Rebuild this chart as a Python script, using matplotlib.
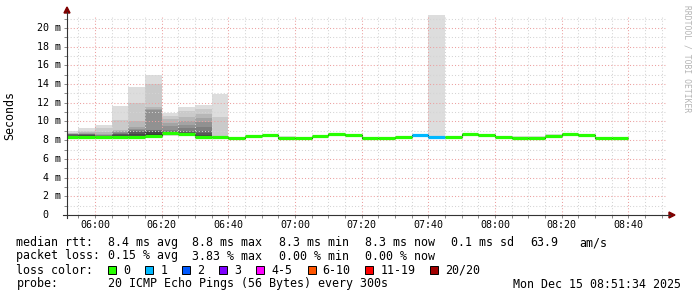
import numpy as np
import matplotlib.pyplot as plt
from matplotlib.patches import Polygon, Rectangle
from matplotlib.lines import Line2D
from matplotlib.ticker import MultipleLocator, FuncFormatter

# --- data -------------------------------------------------------------
# start of each 5 minute slot, minutes after midnight (05:50 ... 08:35)
slot_start = np.arange(5 * 60 + 50, 8 * 60 + 40, 5)
view_start = 5 * 60 + 51 + 34 / 60
view_end = 8 * 60 + 51 + 34 / 60

# median rtt per slot (ms)
median = [8.38, 8.38, 8.38, 8.38, 8.38, 8.49, 8.79, 8.68, 8.38, 8.38,
          8.27, 8.41, 8.56, 8.27, 8.27, 8.41, 8.63, 8.59, 8.27, 8.27,
          8.37, 8.56, 8.37, 8.37, 8.66, 8.56, 8.37, 8.27, 8.27, 8.40,
          8.63, 8.56, 8.27, 8.27]
# lost pings (out of 20) per slot
lost = [0, 0, 0, 0, 0, 0, 0, 0, 0, 0,
        0, 0, 0, 0, 0, 0, 0, 0, 0, 0,
        0, 1, 1, 0, 0, 0, 0, 0, 0, 0,
        0, 0, 0, 0]

# upper ping values (slowest first) for slots that show smoke, ms
smoke_top = {
    0: [8.98, 8.77, 8.74, 8.71, 8.69, 8.67, 8.64, 8.58, 8.50, 8.45],
    1: [9.27, 8.98, 8.85, 8.75, 8.70, 8.66, 8.62, 8.58, 8.55, 8.45],
    2: [9.62, 9.27, 8.90, 8.70, 8.60, 8.55, 8.50, 8.47, 8.44, 8.41],
    3: [11.69, 10.16, 9.09, 8.95, 8.84, 8.75, 8.68, 8.63, 8.55, 8.45],
    4: [13.69, 11.98, 10.02, 9.38, 9.25, 9.13, 9.00, 8.85, 8.70, 8.50],
    5: [15.00, 14.00, 11.55, 11.35, 11.20, 9.13, 9.05, 9.00, 8.90, 8.65],
    6: [10.94, 10.59, 10.23, 9.87, 9.52, 9.09, 8.95, 8.88, 8.83, 8.80],
    7: [11.52, 11.16, 10.52, 10.05, 9.63, 9.27, 9.00, 8.85, 8.75, 8.70],
    8: [11.76, 11.30, 10.80, 10.34, 9.91, 9.44, 9.02, 8.80, 8.60, 8.45],
    9: [12.90, 10.52, 8.50, 8.45, 8.42, 8.41, 8.40, 8.39, 8.39, 8.38],
    13: [8.47, 8.32],
    22: [21.40, 8.45],
    26: [8.50],
    27: [8.48, 8.32],
    28: [8.48, 8.32],
    29: [8.62, 8.45],
}
# fastest ping where it shows below the median line
smoke_bottom = {6: 8.48, 7: 8.45}

loss_labels = ["0", "1", "2", "3", "4-5", "6-10", "11-19", "20/20"]
loss_colors = ["#26ff00", "#00b8ff", "#0059ff", "#7e00ff",
               "#ff00ff", "#ff5500", "#ff0000", "#a10000"]
loss_bins = [0, 1, 2, 3, 5, 10, 19, 20]

rtt_stats = ["8.4 ms avg", "8.8 ms max", "8.3 ms min", "8.3 ms now",
             "0.1 ms sd", "63.9", "am/s"]
loss_stats = ["0.15 % avg", "3.83 % max", "0.00 % min", "0.00 % now"]
probe_text = "20 ICMP Echo Pings (56 Bytes) every 300s"
stamp_text = "Mon Dec 15 08:51:34 2025"

# --- figure -----------------------------------------------------------
W, H = 697, 297
MONO = "DejaVu Sans Mono"
plt.rcParams["font.family"] = MONO


def fx(x):
    return x / W


def fy(y):
    return 1 - y / H


fig = plt.figure(figsize=(W / 100, H / 100), dpi=100)
fig.patch.set_facecolor("white")
ax = fig.add_axes([fx(67), fy(215), 600 / W, 200 / H])
ax.set_xlim(view_start, view_end)
ax.set_ylim(0, 21.39)

# smoke: 10 layers, outer pairs light, inner pairs dark
for idx, tops in smoke_top.items():
    med = median[idx]
    for i in range(10):
        top = tops[i] if i < len(tops) else med
        bot = smoke_bottom.get(idx, med) if i == 0 else med
        if top <= bot:
            continue
        g = int(190 / 10 * (10 - (i + 1))) + 50
        ax.bar(slot_start[idx], top - bot, bottom=bot, width=5, align="edge",
               color="#%02x%02x%02x" % (g, g, g), linewidth=0, zorder=1)

# median line: thin black steps below coloured segments
edges = np.append(slot_start, slot_start[-1] + 5)
ax.stairs(median, edges, baseline=None, color="black", lw=0.8, zorder=2)
seg_colors = [loss_colors[np.searchsorted(loss_bins, n)] for n in lost]
ax.hlines(median, slot_start, slot_start + 5, colors=seg_colors, lw=2.3,
          capstyle="butt", zorder=3)

# grid
ax.xaxis.set_major_locator(MultipleLocator(20))
ax.xaxis.set_minor_locator(MultipleLocator(5))
ax.yaxis.set_major_locator(MultipleLocator(2))
ax.yaxis.set_minor_locator(MultipleLocator(1))
ax.set_axisbelow(False)
ax.grid(which="minor", color="#d4d4d4", ls=(0, (1, 2)), lw=0.75)
ax.grid(which="major", color="#eca0a0", ls=(0, (1, 2)), lw=0.75)
for s in ax.spines.values():
    s.set_visible(False)

ax.xaxis.set_major_formatter(
    FuncFormatter(lambda v, p: "%02d:%02d" % (int(v) // 60, int(v) % 60)))
ax.tick_params(which="both", length=2, width=0.7, color="#888888")
ax.tick_params(axis="x", labelsize=7.2, pad=1.5)
ax.set_yticklabels([])

# y tick labels, rrdtool style
for v in range(0, 21, 2):
    if v == 0:
        ax.text(-0.031, v, "0", ha="right", va="center", fontsize=7.2,
                transform=ax.get_yaxis_transform())
    else:
        ax.text(-0.01, v, "%d m" % v, ha="right", va="center", fontsize=7.2,
                transform=ax.get_yaxis_transform())

# axes with arrows
axis_col = "#333333"
arrow_col = "#7f0000"
fig.add_artist(Line2D([fx(63), fx(670)], [fy(215), fy(215)], color=axis_col,
                      lw=0.8, transform=fig.transFigure))
fig.add_artist(Line2D([fx(67), fx(67)], [fy(218), fy(12)], color=axis_col,
                      lw=0.8, transform=fig.transFigure))
fig.add_artist(Polygon([(fx(669), fy(212)), (fx(669), fy(218)), (fx(675), fy(215))],
                       closed=True, color=arrow_col, transform=fig.transFigure))
fig.add_artist(Polygon([(fx(64), fy(13)), (fx(70), fy(13)), (fx(67), fy(7))],
                       closed=True, color=arrow_col, transform=fig.transFigure))

fig.text(fx(10), fy(115), "Seconds", rotation=90, ha="center", va="center",
         fontsize=8.4)
fig.text(fx(687), fy(5), "RRDTOOL / TOBI OETIKER", rotation=-90, ha="center",
         va="top", fontsize=5.8, color="#b4b4b4")

# legend
fs = 8.4
rows = [246, 259.5, 273.5, 287.5]
col_x = [107.6, 192.4, 279, 365.3, 451, 530, 579]

fig.text(fx(16.4), fy(rows[0]), "median rtt:", fontsize=fs, va="baseline")
for x, t in zip(col_x, rtt_stats):
    fig.text(fx(x), fy(rows[0]), t, fontsize=fs, va="baseline")

fig.text(fx(16.4), fy(rows[1]), "packet loss:", fontsize=fs, va="baseline")
for x, t in zip(col_x, loss_stats):
    fig.text(fx(x), fy(rows[1]), t, fontsize=fs, va="baseline")

fig.text(fx(16.4), fy(rows[2]), "loss color:", fontsize=fs, va="baseline")
box_x = [108, 145.3, 182.2, 219.1, 256.4, 307.6, 365.3, 429.8]
for x, lab, col in zip(box_x, loss_labels, loss_colors):
    fig.add_artist(Rectangle((fx(x), fy(rows[2])), 8 / W, 8 / H,
                             facecolor=col, edgecolor="black", lw=0.7,
                             transform=fig.transFigure))
    fig.text(fx(x + 15), fy(rows[2]), lab, fontsize=fs, va="baseline")

fig.text(fx(16.4), fy(rows[3]), "probe:", fontsize=fs, va="baseline")
fig.text(fx(107.6), fy(rows[3]), probe_text, fontsize=fs, va="baseline")
fig.text(fx(681), fy(rows[3]), stamp_text, fontsize=fs, va="baseline",
         ha="right")

fig.savefig("out.png", dpi=100, facecolor="white")
